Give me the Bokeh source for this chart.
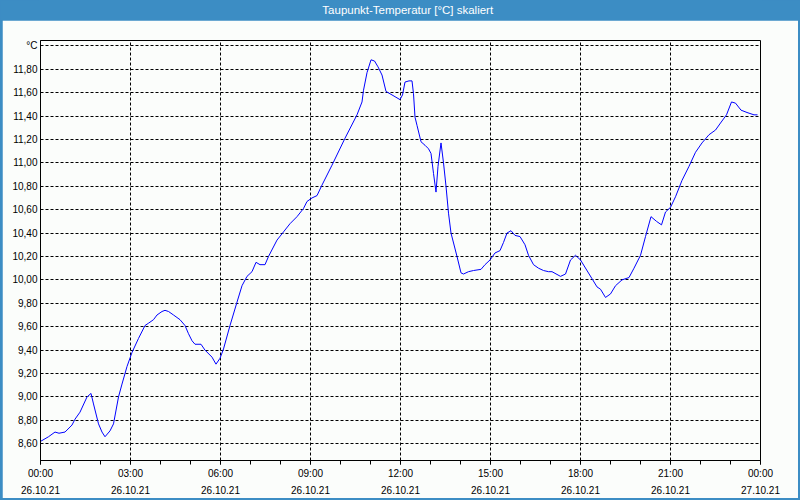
from bokeh.plotting import figure
from bokeh.models import Range1d, FixedTicker, LinearAxis, Label, Grid
from bokeh.layouts import column
from bokeh.embed import file_html
from bokeh.resources import INLINE

# ---------------- data ----------------
chart_title = "Taupunkt-Temperatur [°C] skaliert"

minutes_since_midnight = [
    0, 16, 29, 37, 49, 63, 69, 79, 93, 101, 106, 116, 123, 129, 139, 146, 156, 163, 173, 183,
    196, 209, 216, 226, 233, 243, 249, 256, 266,
    279, 289, 296, 303, 309, 321, 329, 343, 351, 359, 366, 379, 393, 403, 413, 423, 431, 439,
    449, 456, 473, 486, 499, 513, 526,
    533, 543, 553, 563, 583, 609, 633, 643, 646, 653, 661, 668, 675, 683, 691, 703, 719, 724,
    729, 737, 743, 746, 749, 753, 761,
    769, 776, 781, 786, 791, 795, 801, 806, 811, 816, 821, 833, 841, 846, 856, 866, 881, 889,
    899, 909, 919, 926, 933, 941, 949, 959, 969, 976, 986, 996, 1006, 1016,
    1023, 1040, 1050, 1060, 1070, 1080, 1103, 1113, 1120, 1130, 1140, 1150, 1163, 1177, 1187,
    1200, 1210, 1221, 1232, 1242, 1250, 1260, 1270, 1283, 1297, 1310, 1323, 1337, 1350, 1360,
    1372, 1382, 1390, 1401, 1413, 1427, 1434,
]

dew_point = [
    8.62, 8.66, 8.70, 8.69, 8.70, 8.76, 8.81, 8.87, 9.00, 9.03, 8.94, 8.77, 8.70, 8.66, 8.71,
    8.77, 9.00, 9.11, 9.26, 9.38, 9.50, 9.61, 9.63, 9.66, 9.70, 9.73, 9.74, 9.73, 9.70,
    9.66, 9.61, 9.54, 9.48, 9.45, 9.45, 9.40, 9.34, 9.28, 9.33, 9.41, 9.61, 9.81, 9.95, 10.03,
    10.07, 10.15, 10.13, 10.13, 10.20, 10.34, 10.41, 10.48, 10.54, 10.61,
    10.67, 10.70, 10.72, 10.81, 10.98, 11.21, 11.41, 11.52, 11.62, 11.77, 11.88, 11.87, 11.82,
    11.75, 11.61, 11.58, 11.54, 11.58, 11.69, 11.70, 11.70, 11.59, 11.39, 11.32, 11.18,
    11.15, 11.12, 11.08, 10.91, 10.75, 10.97, 11.17, 11.00, 10.80, 10.57, 10.40, 10.20, 10.06,
    10.05, 10.07, 10.08, 10.09, 10.13, 10.17, 10.23, 10.25, 10.32, 10.40, 10.42, 10.38, 10.37,
    10.30, 10.21, 10.13, 10.10, 10.08, 10.07,
    10.07, 10.03, 10.05, 10.17, 10.21, 10.17, 10.01, 9.94, 9.92, 9.85, 9.88, 9.95, 10.00, 10.02,
    10.10, 10.21, 10.37, 10.54, 10.50, 10.47, 10.58, 10.62, 10.71, 10.85, 10.97, 11.09, 11.17,
    11.24, 11.28, 11.34, 11.41, 11.52, 11.51, 11.45, 11.43, 11.41, 11.41,
]

x_tick_hours = [0, 3, 6, 9, 12, 15, 18, 21, 24]
x_minor_hours = list(range(0, 25))
x_time_labels = ["00:00", "03:00", "06:00", "09:00", "12:00", "15:00", "18:00", "21:00", "00:00"]
x_date_labels = ["26.10.21"] * 8 + ["27.10.21"]

y_tick_values = [8.6, 8.8, 9.0, 9.2, 9.4, 9.6, 9.8, 10.0, 10.2, 10.4, 10.6, 10.8, 11.0,
                 11.2, 11.4, 11.6, 11.8, 12.0]
y_tick_labels = ["8,60", "8,80", "9,00", "9,20", "9,40", "9,60", "9,80", "10,00", "10,20",
                 "10,40", "10,60", "10,80", "11,00", "11,20", "11,40", "11,60", "11,80", "°C"]

hours = [m / 60.0 for m in minutes_since_midnight]

# ---------------- style ----------------
FONT = "Liberation Sans"
BG = "#fbfdfb"
BLUE_BAR = "#3c8dc4"

# ---------------- header bar ----------------
header = figure(width=800, height=20, output_backend="svg", toolbar_location=None,
                x_range=Range1d(0, 800), y_range=Range1d(0, 20),
                x_axis_type=None, y_axis_type=None, title=None,
                min_border=0, min_border_left=0, min_border_right=0,
                min_border_top=0, min_border_bottom=0)
header.background_fill_color = BLUE_BAR
header.border_fill_color = BLUE_BAR
header.outline_line_color = None
header.add_layout(Label(x=408, y=10.5, text=chart_title, text_color="white",
                        text_font=FONT, text_font_size="11.5px",
                        text_align="center", text_baseline="middle"))

# ---------------- main chart ----------------
p = figure(width=796, height=478, output_backend="svg", toolbar_location=None,
           x_range=Range1d(0, 24), y_range=Range1d(8.457, 12.045),
           x_axis_type=None, y_axis_type=None, title=None,
           min_border_left=38, min_border_right=38, min_border_top=20, min_border_bottom=38)
p.margin = (0, 2, 2, 2)

p.background_fill_color = BG
p.border_fill_color = BG
p.outline_line_color = "black"
p.outline_line_width = 1

x_ticker = FixedTicker(ticks=x_tick_hours, minor_ticks=x_minor_hours)
y_ticker = FixedTicker(ticks=y_tick_values)

p.add_layout(Grid(dimension=0, ticker=x_ticker, grid_line_color="black",
                  grid_line_dash="3 2", grid_line_width=1))
p.add_layout(Grid(dimension=1, ticker=y_ticker, grid_line_color="black",
                  grid_line_dash="3 2", grid_line_width=1))

xaxis = LinearAxis(ticker=x_ticker,
                   major_label_overrides=dict(zip(x_tick_hours, x_time_labels)),
                   major_tick_in=0, major_tick_out=4, minor_tick_in=0, minor_tick_out=4,
                   major_label_standoff=3, axis_line_color="black",
                   major_tick_line_color="black", minor_tick_line_color="black",
                   major_label_text_font=FONT, major_label_text_font_size="10px",
                   major_label_text_color="black")
p.add_layout(xaxis, "below")

xaxis2 = LinearAxis(ticker=FixedTicker(ticks=x_tick_hours),
                    major_label_overrides=dict(zip(x_tick_hours, x_date_labels)),
                    major_tick_in=0, major_tick_out=0, minor_tick_in=0, minor_tick_out=0,
                    major_label_standoff=4, axis_line_color=None,
                    major_tick_line_color=None, minor_tick_line_color=None,
                    major_label_text_font=FONT, major_label_text_font_size="10px",
                    major_label_text_color="black")
p.add_layout(xaxis2, "below")

yaxis = LinearAxis(ticker=y_ticker,
                   major_label_overrides=dict(zip(y_tick_values, y_tick_labels)),
                   major_tick_in=0, major_tick_out=0, minor_tick_in=0, minor_tick_out=0,
                   major_label_standoff=3, axis_line_color="black",
                   major_tick_line_color=None, minor_tick_line_color=None,
                   major_label_text_font=FONT, major_label_text_font_size="10px",
                   major_label_text_color="black")
p.add_layout(yaxis, "left")

p.line(hours, dew_point, line_color="#0000ff", line_width=1)

layout = column(header, p, spacing=0, styles={"background-color": BLUE_BAR})

open("out.html", "w").write(file_html(layout, INLINE))
